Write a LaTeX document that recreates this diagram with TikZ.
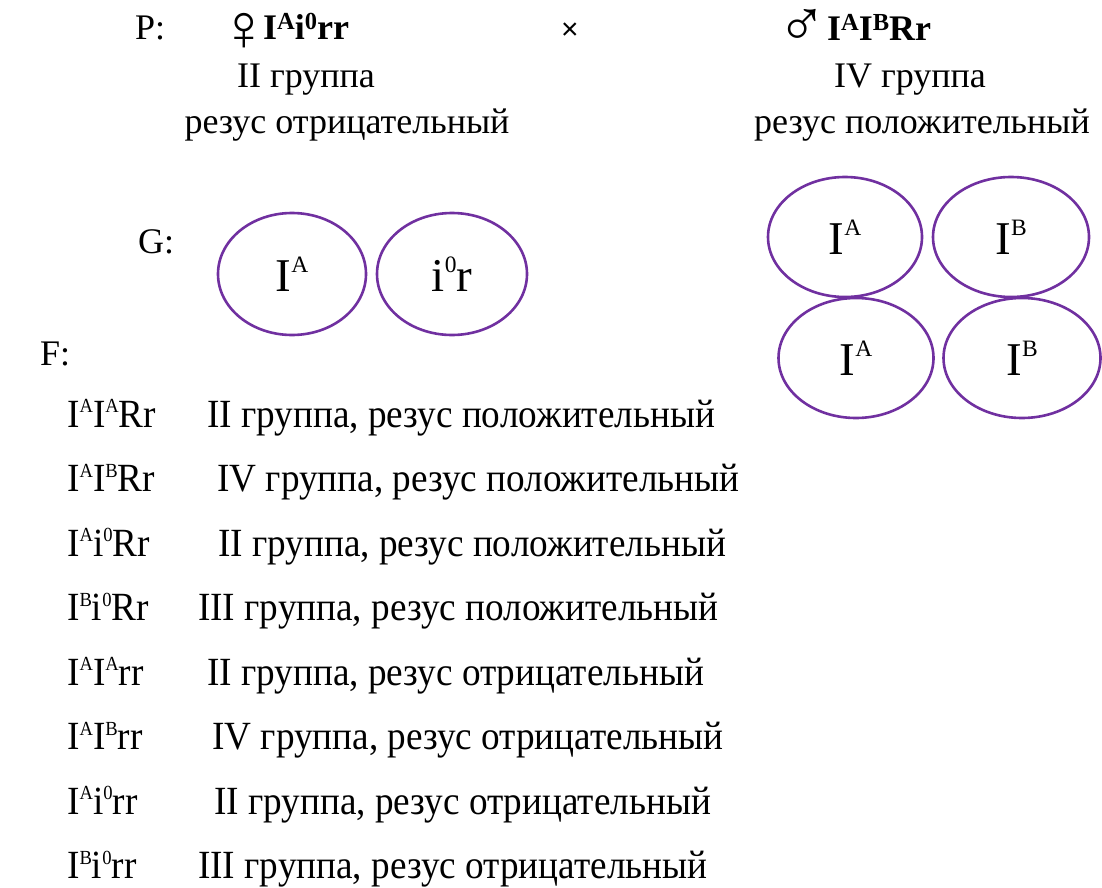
\documentclass[tikz,border=0pt]{standalone}
\usepackage{graphicx}
\usepackage{fontspec}
\setmainfont{Liberation Serif}
\newfontfamily\crossfont{Liberation Sans}
\newfontfamily\narrowfont[FakeStretch=0.93]{Liberation Serif}
\usetikzlibrary{shapes.geometric}
\definecolor{gamcol}{HTML}{7030A0}
% raised, reduced allele index
\newcommand\upr[3][0.6]{\raisebox{#2em}{\scalebox{#1}{#3}}}

\tikzset{
  hdr/.style={inner sep=0pt, anchor=base west, font=\fontsize{36}{42}\selectfont},
  hdrc/.style={inner sep=0pt, anchor=base, font=\fontsize{36}{42}\selectfont},
  sign/.style={inner sep=5pt, anchor=center, font=\fontsize{66}{70}\selectfont},
  gam/.style={ellipse, draw=gamcol, line width=2.6pt, inner sep=0pt,
              font=\fontsize{47}{50}\selectfont},
  geno/.style={inner sep=0pt, anchor=base west, font=\narrowfont\fontsize{40}{44}\selectfont},
  desc/.style={inner sep=0pt, anchor=base west, font=\narrowfont\fontsize{40}{44}\selectfont},
}

\begin{document}
\begin{tikzpicture}[x=1pt, y=-1pt]
\path[use as bounding box] (0,0) rectangle (1102,888);

% parents
\node[hdr] (plabel) at (135,40) {P:};
\node[sign] (fsign) at (244,32) {♀};
\node[hdr] (fgeno) at (263,40) {\bfseries I\upr[0.68]{0.3}{A}i\upr[0.68]{0.3}{0}rr};
\node[hdr, font=\crossfont\fontsize{30}{34}\selectfont] (cross) at (561,40) {×};
\node[sign] (msign) at (802,28) {♂};
\node[hdr] (mgeno) at (827,41) {\bfseries I\upr[0.68]{0.3}{A}I\upr[0.68]{0.3}{B}Rr};
\node[hdrc] (fgroup) at (306,88) {II группа};
\node[hdrc] (frh) at (347,133) {резус отрицательный};
\node[hdrc] (mgroup) at (910,88) {IV группа};
\node[hdrc] (mrh) at (922,133) {резус положительный};

% gametes
\node[hdr] (glabel) at (138,253) {G:};
\node[gam, minimum width=148pt, minimum height=122pt] (g1) at (292,274) {I\upr[0.5]{0.4}{A}};
\node[gam, minimum width=150pt, minimum height=122pt] (g2) at (452,274) {i\upr[0.5]{0.4}{0}r};
\node[gam, minimum width=154pt, minimum height=120pt] (g3) at (845,237) {I\upr[0.5]{0.4}{A}};
\node[gam, minimum width=156pt, minimum height=120pt] (g4) at (1011,237) {I\upr[0.5]{0.4}{B}};
\node[gam, minimum width=155pt, minimum height=120pt] (g5) at (856,358) {I\upr[0.5]{0.4}{A}};
\node[gam, minimum width=157pt, minimum height=120pt] (g6) at (1022,358) {I\upr[0.5]{0.4}{B}};

% offspring
\node[hdr] (flabel) at (40,365) {F:};
\node[geno] (o1) at (67,427) {I\upr[0.5]{0.36}{A}I\upr[0.5]{0.36}{A}Rr};
\node[desc] (d1) at (207,427) {II группа, резус положительный};
\node[geno] (o2) at (67,491.5) {I\upr[0.5]{0.36}{A}I\upr[0.5]{0.36}{B}Rr};
\node[desc] (d2) at (217,491.5) {IV группа, резус положительный};
\node[geno] (o3) at (67,556) {I\upr[0.5]{0.36}{A}i\upr[0.5]{0.36}{0}Rr};
\node[desc] (d3) at (218,556) {II группа, резус положительный};
\node[geno] (o4) at (67,620.5) {I\upr[0.5]{0.36}{B}i\upr[0.5]{0.36}{0}Rr};
\node[desc] (d4) at (198,620.5) {III группа, резус положительный};
\node[geno] (o5) at (67,685) {I\upr[0.5]{0.36}{A}I\upr[0.5]{0.36}{A}rr};
\node[desc] (d5) at (207,685) {II группа, резус отрицательный};
\node[geno] (o6) at (67,749.5) {I\upr[0.5]{0.36}{A}I\upr[0.5]{0.36}{B}rr};
\node[desc] (d6) at (212,749.5) {IV группа, резус отрицательный};
\node[geno] (o7) at (67,814) {I\upr[0.5]{0.36}{A}i\upr[0.5]{0.36}{0}rr};
\node[desc] (d7) at (214,814) {II группа, резус отрицательный};
\node[geno] (o8) at (67,878.5) {I\upr[0.5]{0.36}{B}i\upr[0.5]{0.36}{0}rr};
\node[desc] (d8) at (198,878.5) {III группа, резус отрицательный};
\end{tikzpicture}
\end{document}
